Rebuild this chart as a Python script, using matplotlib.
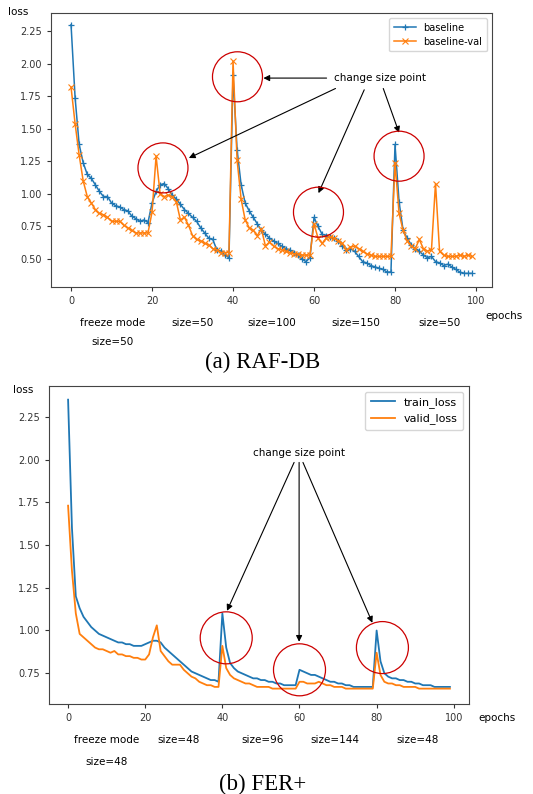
import numpy as np
import matplotlib
matplotlib.use('Agg')
import matplotlib.pyplot as plt
from matplotlib.patches import Circle

W, H = 533, 794

# ---------------- data: (a) RAF-DB ----------------
epochs_a = np.arange(100)
baseline = [
    2.30, 1.74, 1.38, 1.24, 1.15, 1.12, 1.07, 1.02, 0.98, 0.98,
    0.93, 0.91, 0.90, 0.88, 0.87, 0.83, 0.81, 0.79, 0.80, 0.78,
    0.93, 1.02, 1.07, 1.08, 1.04, 0.99, 0.96, 0.92, 0.88, 0.85,
    0.82, 0.79, 0.74, 0.70, 0.66, 0.65, 0.57, 0.56, 0.53, 0.51,
    1.91, 1.34, 1.07, 0.93, 0.87, 0.82, 0.77, 0.72, 0.69, 0.66,
    0.64, 0.62, 0.60, 0.58, 0.57, 0.55, 0.53, 0.50, 0.48, 0.51,
    0.82, 0.75, 0.69, 0.68, 0.67, 0.66, 0.64, 0.60, 0.57, 0.58,
    0.56, 0.52, 0.48, 0.47, 0.45, 0.44, 0.43, 0.42, 0.40, 0.40,
    1.38, 0.94, 0.72, 0.66, 0.61, 0.58, 0.56, 0.53, 0.51, 0.52,
    0.48, 0.47, 0.45, 0.46, 0.44, 0.42, 0.40, 0.39, 0.39, 0.39,
]
baseline_val = [
    1.82, 1.54, 1.30, 1.10, 0.98, 0.93, 0.88, 0.85, 0.84, 0.82,
    0.79, 0.79, 0.79, 0.76, 0.74, 0.72, 0.70, 0.70, 0.70, 0.70,
    0.86, 1.29, 1.00, 0.98, 0.99, 0.98, 0.94, 0.80, 0.82, 0.76,
    0.68, 0.65, 0.64, 0.62, 0.61, 0.58, 0.57, 0.55, 0.55, 0.55,
    2.02, 1.26, 0.96, 0.80, 0.74, 0.72, 0.68, 0.73, 0.60, 0.63,
    0.60, 0.58, 0.57, 0.56, 0.55, 0.54, 0.54, 0.53, 0.53, 0.53,
    0.77, 0.66, 0.62, 0.66, 0.67, 0.66, 0.64, 0.62, 0.57, 0.59,
    0.60, 0.58, 0.56, 0.54, 0.53, 0.52, 0.52, 0.52, 0.52, 0.52,
    1.24, 0.85, 0.72, 0.64, 0.60, 0.58, 0.65, 0.58, 0.56, 0.57,
    1.08, 0.56, 0.53, 0.52, 0.52, 0.52, 0.53, 0.52, 0.53, 0.52,
]

# ---------------- data: (b) FER+ ----------------
epochs_b = np.arange(100)
train_loss = [
    2.35, 1.60, 1.20, 1.13, 1.08, 1.05, 1.02, 1.00, 0.98, 0.97,
    0.96, 0.95, 0.94, 0.93, 0.93, 0.92, 0.92, 0.91, 0.91, 0.91,
    0.92, 0.93, 0.94, 0.94, 0.93, 0.90, 0.88, 0.86, 0.84, 0.82,
    0.80, 0.78, 0.76, 0.75, 0.74, 0.73, 0.72, 0.71, 0.71, 0.70,
    1.10, 0.90, 0.81, 0.78, 0.76, 0.75, 0.74, 0.73, 0.72, 0.72,
    0.71, 0.71, 0.70, 0.70, 0.69, 0.69, 0.68, 0.68, 0.68, 0.68,
    0.77, 0.76, 0.75, 0.74, 0.74, 0.73, 0.72, 0.71, 0.70, 0.70,
    0.69, 0.69, 0.68, 0.68, 0.67, 0.67, 0.67, 0.67, 0.67, 0.67,
    1.00, 0.82, 0.75, 0.73, 0.72, 0.72, 0.71, 0.71, 0.70, 0.70,
    0.69, 0.69, 0.68, 0.68, 0.68, 0.67, 0.67, 0.67, 0.67, 0.67,
]
valid_loss = [
    1.73, 1.35, 1.10, 0.98, 0.96, 0.94, 0.92, 0.90, 0.89, 0.89,
    0.88, 0.87, 0.88, 0.86, 0.86, 0.85, 0.85, 0.84, 0.84, 0.83,
    0.83, 0.86, 0.96, 1.03, 0.88, 0.85, 0.82, 0.80, 0.80, 0.80,
    0.77, 0.75, 0.73, 0.72, 0.70, 0.69, 0.68, 0.68, 0.67, 0.67,
    0.91, 0.78, 0.74, 0.72, 0.71, 0.70, 0.69, 0.69, 0.68, 0.67,
    0.67, 0.67, 0.67, 0.66, 0.66, 0.66, 0.66, 0.66, 0.66, 0.66,
    0.70, 0.70, 0.69, 0.69, 0.69, 0.70, 0.69, 0.68, 0.68, 0.67,
    0.67, 0.67, 0.66, 0.66, 0.66, 0.66, 0.66, 0.66, 0.66, 0.66,
    0.87, 0.74, 0.70, 0.69, 0.69, 0.68, 0.68, 0.67, 0.67, 0.67,
    0.67, 0.66, 0.66, 0.66, 0.66, 0.66, 0.66, 0.66, 0.66, 0.66,
]

phase_a = ["freeze mode", "size=50", "size=100", "size=150", "size=50"]
phase_b = ["freeze mode", "size=48", "size=96", "size=144", "size=48"]
freeze_size_a = "size=50"
freeze_size_b = "size=48"

BLUE = '#1f77b4'
ORANGE = '#ff7f0e'
RED = '#cc0000'


def px_axes(left, top, right, bottom):
    return [left / W, 1 - bottom / H, (right - left) / W, (bottom - top) / H]


def style_axes(ax, yticks):
    ax.set_xlim(-4.95, 103.95)
    ax.set_xticks([0, 20, 40, 60, 80, 100])
    ax.set_yticks(yticks)
    ax.set_yticklabels([f'{v:.2f}' for v in yticks])
    ax.tick_params(labelsize=7, colors='#333333', length=3)
    for s in ax.spines.values():
        s.set_color('#444444')


def circle_at(ax, x, y, r_px):
    # red ring centred on a data point, radius in pixels
    cx, cy = ax.transData.transform((x, y))
    ax.add_patch(Circle((cx, cy), r_px, transform=None, fill=False,
                        edgecolor=RED, lw=0.9, zorder=5, clip_on=False))


def ftext(x, y, s, **kw):
    # figure text placed by pixel position
    fig.text(x / W, 1 - y / H, s, ha='center', va='center', **kw)


arrow = dict(arrowstyle='-|>', color='black', lw=0.8, mutation_scale=9,
             shrinkA=0, shrinkB=0)

fig = plt.figure(figsize=(W / 100, H / 100), dpi=100)

# ================= (a) RAF-DB =================
ax1 = fig.add_axes(px_axes(51, 13, 492, 287))
ax1.plot(epochs_a, baseline, color=BLUE, marker='+', ms=5, mew=0.9, lw=1.1,
         label='baseline')
ax1.plot(epochs_a, baseline_val, color=ORANGE, marker='x', ms=4, mew=0.8,
         lw=1.1, label='baseline-val')
style_axes(ax1, [0.50, 0.75, 1.00, 1.25, 1.50, 1.75, 2.00, 2.25])
ax1.set_ylim(0.285, 2.39)
ax1.legend(loc='upper right', fontsize=7, handlelength=2.2,
           borderpad=0.5, labelspacing=0.4)

for cx, cy in [(22.7, 1.20), (41.1, 1.90), (61.1, 0.86), (81.0, 1.29)]:
    circle_at(ax1, cx, cy, 25)

ax1.text(76.4, 1.89, 'change size point', fontsize=7.5, ha='center',
         va='center')
for start, end in [((63.1, 1.89), (47.5, 1.89)),
                   ((65.3, 1.81), (29.1, 1.276)),
                   ((72.4, 1.80), (61.1, 1.006)),
                   ((77.1, 1.81), (81.0, 1.47))]:
    ax1.annotate('', xy=end, xytext=start, arrowprops=arrow)

ftext(18, 12, 'loss', fontsize=7.5)
ftext(504, 316, 'epochs', fontsize=7.5)
for label, x in zip(phase_a, [113, 193, 272, 356, 440]):
    ftext(x, 323, label, fontsize=7.5)
ftext(113, 342, freeze_size_a, fontsize=7.5)
ftext(263, 362, '(a) RAF-DB', fontsize=16.5, family='Liberation Serif')

# ================= (b) FER+ =================
ax2 = fig.add_axes(px_axes(49, 386, 469, 704))
ax2.plot(epochs_b, train_loss, color=BLUE, lw=1.3, label='train_loss')
ax2.plot(epochs_b, valid_loss, color=ORANGE, lw=1.3, label='valid_loss')
style_axes(ax2, [0.75, 1.00, 1.25, 1.50, 1.75, 2.00, 2.25])
ax2.set_ylim(0.57, 2.43)
ax2.legend(loc='upper right', fontsize=8, handlelength=2.2,
           borderpad=0.5, labelspacing=0.5)

for cx, cy in [(41.0, 0.957), (60.0, 0.77), (81.5, 0.90)]:
    circle_at(ax2, cx, cy, 26)

ax2.text(59.9, 2.04, 'change size point', fontsize=7.5, ha='center',
         va='center')
for start, end in [((58.6, 1.983), (41.2, 1.115)),
                   ((59.9, 1.983), (59.9, 0.934)),
                   ((60.9, 1.983), (78.9, 1.045))]:
    ax2.annotate('', xy=end, xytext=start, arrowprops=arrow)

ftext(23, 390, 'loss', fontsize=7.5)
ftext(497, 718, 'epochs', fontsize=7.5)
for label, x in zip(phase_b, [107, 179, 263, 335, 418]):
    ftext(x, 740, label, fontsize=7.5)
ftext(107, 762, freeze_size_b, fontsize=7.5)
ftext(263, 784, '(b) FER+', fontsize=16.5, family='Liberation Serif')

fig.savefig('out.png', dpi=100)
